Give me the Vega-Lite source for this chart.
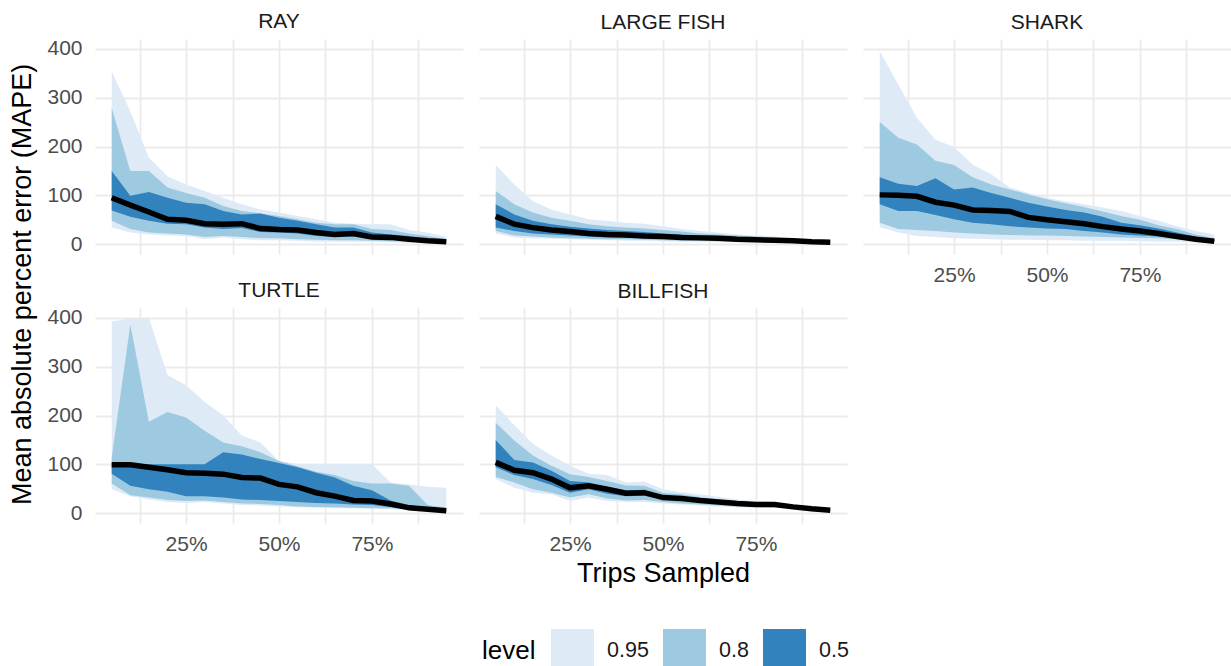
{
"$schema": "https://vega.github.io/schema/vega-lite/v6.json",
"padding": {"left": 8, "right": 0, "top": 10, "bottom": 0},
"title": {"text": "Mean absolute percent error (MAPE)", "orient": "left", "anchor": "middle", "fontSize": 27, "fontWeight": "normal", "color": "#000000", "offset": 10, "dx": 57},
"data": {"values": [
{"sp":"RAY","x":0.05,"m":95,"l50":69,"h50":150,"l80":48,"h80":279,"l95":34,"h95":354},
{"sp":"RAY","x":0.10,"m":80,"l50":56,"h50":99,"l80":31,"h80":150,"l95":24,"h95":272},
{"sp":"RAY","x":0.15,"m":66,"l50":48,"h50":107,"l80":24,"h80":150,"l95":20,"h95":177},
{"sp":"RAY","x":0.20,"m":51,"l50":42,"h50":95,"l80":22,"h80":116,"l95":18,"h95":139},
{"sp":"RAY","x":0.25,"m":49,"l50":41,"h50":85,"l80":20,"h80":105,"l95":17,"h95":122},
{"sp":"RAY","x":0.30,"m":42,"l50":34,"h50":82,"l80":15,"h80":95,"l95":10,"h95":109},
{"sp":"RAY","x":0.35,"m":41,"l50":31,"h50":68,"l80":17,"h80":78,"l95":14,"h95":95},
{"sp":"RAY","x":0.40,"m":42,"l50":33,"h50":61,"l80":15,"h80":68,"l95":10,"h95":82},
{"sp":"RAY","x":0.45,"m":32,"l50":25,"h50":63,"l80":12,"h80":63,"l95":8,"h95":71},
{"sp":"RAY","x":0.50,"m":30,"l50":24,"h50":54,"l80":12,"h80":58,"l95":8,"h95":65},
{"sp":"RAY","x":0.55,"m":29,"l50":22,"h50":48,"l80":10,"h80":51,"l95":7,"h95":58},
{"sp":"RAY","x":0.60,"m":24,"l50":17,"h50":41,"l80":9,"h80":44,"l95":5,"h95":51},
{"sp":"RAY","x":0.65,"m":20,"l50":15,"h50":34,"l80":8,"h80":41,"l95":5,"h95":44},
{"sp":"RAY","x":0.70,"m":22,"l50":16,"h50":34,"l80":8,"h80":41,"l95":5,"h95":42},
{"sp":"RAY","x":0.75,"m":15,"l50":10,"h50":24,"l80":7,"h80":31,"l95":5,"h95":41},
{"sp":"RAY","x":0.80,"m":14,"l50":9,"h50":20,"l80":6,"h80":29,"l95":4,"h95":41},
{"sp":"RAY","x":0.85,"m":10,"l50":7,"h50":17,"l80":5,"h80":22,"l95":3,"h95":29},
{"sp":"RAY","x":0.90,"m":7,"l50":5,"h50":10,"l80":4,"h80":17,"l95":3,"h95":24},
{"sp":"RAY","x":0.95,"m":5,"l50":3,"h50":7,"l80":3,"h80":10,"l95":2,"h95":15},
{"sp":"LARGE FISH","x":0.05,"m":57,"l50":34,"h50":82,"l80":27,"h80":109,"l95":22,"h95":162},
{"sp":"LARGE FISH","x":0.10,"m":41,"l50":27,"h50":61,"l80":18,"h80":82,"l95":14,"h95":122},
{"sp":"LARGE FISH","x":0.15,"m":34,"l50":22,"h50":48,"l80":16,"h80":65,"l95":12,"h95":88},
{"sp":"LARGE FISH","x":0.20,"m":29,"l50":20,"h50":41,"l80":14,"h80":54,"l95":11,"h95":71},
{"sp":"LARGE FISH","x":0.25,"m":26,"l50":18,"h50":36,"l80":12,"h80":48,"l95":10,"h95":61},
{"sp":"LARGE FISH","x":0.30,"m":22,"l50":16,"h50":32,"l80":11,"h80":41,"l95":9,"h95":51},
{"sp":"LARGE FISH","x":0.35,"m":20,"l50":14,"h50":29,"l80":10,"h80":37,"l95":8,"h95":48},
{"sp":"LARGE FISH","x":0.40,"m":19,"l50":14,"h50":27,"l80":10,"h80":34,"l95":7,"h95":44},
{"sp":"LARGE FISH","x":0.45,"m":17,"l50":12,"h50":25,"l80":9,"h80":32,"l95":7,"h95":42},
{"sp":"LARGE FISH","x":0.50,"m":16,"l50":11,"h50":22,"l80":8,"h80":29,"l95":6,"h95":37},
{"sp":"LARGE FISH","x":0.55,"m":14,"l50":10,"h50":20,"l80":7,"h80":26,"l95":5,"h95":31},
{"sp":"LARGE FISH","x":0.60,"m":13,"l50":9,"h50":18,"l80":7,"h80":22,"l95":5,"h95":27},
{"sp":"LARGE FISH","x":0.65,"m":12,"l50":8,"h50":17,"l80":6,"h80":20,"l95":4,"h95":24},
{"sp":"LARGE FISH","x":0.70,"m":10,"l50":7,"h50":15,"l80":5,"h80":18,"l95":4,"h95":20},
{"sp":"LARGE FISH","x":0.75,"m":9,"l50":6,"h50":13,"l80":5,"h80":16,"l95":3,"h95":18},
{"sp":"LARGE FISH","x":0.80,"m":8,"l50":5,"h50":11,"l80":4,"h80":14,"l95":3,"h95":16},
{"sp":"LARGE FISH","x":0.85,"m":7,"l50":5,"h50":9,"l80":4,"h80":11,"l95":3,"h95":12},
{"sp":"LARGE FISH","x":0.90,"m":5,"l50":4,"h50":7,"l80":3,"h80":8,"l95":2,"h95":9},
{"sp":"LARGE FISH","x":0.95,"m":4,"l50":3,"h50":5,"l80":3,"h80":5,"l95":2,"h95":5},
{"sp":"SHARK","x":0.05,"m":101,"l50":82,"h50":137,"l80":44,"h80":250,"l95":35,"h95":395},
{"sp":"SHARK","x":0.10,"m":100,"l50":68,"h50":124,"l80":31,"h80":218,"l95":24,"h95":327},
{"sp":"SHARK","x":0.15,"m":98,"l50":68,"h50":119,"l80":29,"h80":204,"l95":17,"h95":259},
{"sp":"SHARK","x":0.20,"m":86,"l50":60,"h50":135,"l80":27,"h80":171,"l95":15,"h95":214},
{"sp":"SHARK","x":0.25,"m":80,"l50":51,"h50":112,"l80":24,"h80":162,"l95":12,"h95":199},
{"sp":"SHARK","x":0.30,"m":70,"l50":44,"h50":116,"l80":22,"h80":137,"l95":11,"h95":163},
{"sp":"SHARK","x":0.35,"m":69,"l50":41,"h50":105,"l80":20,"h80":122,"l95":10,"h95":143},
{"sp":"SHARK","x":0.40,"m":67,"l50":37,"h50":95,"l80":19,"h80":112,"l95":9,"h95":116},
{"sp":"SHARK","x":0.45,"m":55,"l50":34,"h50":85,"l80":18,"h80":102,"l95":9,"h95":105},
{"sp":"SHARK","x":0.50,"m":50,"l50":32,"h50":77,"l80":18,"h80":92,"l95":8,"h95":95},
{"sp":"SHARK","x":0.55,"m":46,"l50":31,"h50":70,"l80":17,"h80":84,"l95":8,"h95":88},
{"sp":"SHARK","x":0.60,"m":42,"l50":27,"h50":65,"l80":16,"h80":76,"l95":7,"h95":82},
{"sp":"SHARK","x":0.65,"m":36,"l50":24,"h50":56,"l80":15,"h80":67,"l95":7,"h95":75},
{"sp":"SHARK","x":0.70,"m":31,"l50":20,"h50":44,"l80":14,"h80":58,"l95":7,"h95":68},
{"sp":"SHARK","x":0.75,"m":27,"l50":18,"h50":39,"l80":13,"h80":50,"l95":6,"h95":58},
{"sp":"SHARK","x":0.80,"m":22,"l50":16,"h50":32,"l80":12,"h80":39,"l95":5,"h95":48},
{"sp":"SHARK","x":0.85,"m":16,"l50":12,"h50":24,"l80":10,"h80":31,"l95":5,"h95":37},
{"sp":"SHARK","x":0.90,"m":10,"l50":8,"h50":16,"l80":7,"h80":20,"l95":4,"h95":27},
{"sp":"SHARK","x":0.95,"m":6,"l50":5,"h50":9,"l80":5,"h80":12,"l95":3,"h95":20},
{"sp":"TURTLE","x":0.05,"m":99,"l50":81,"h50":103,"l80":61,"h80":114,"l95":49,"h95":393},
{"sp":"TURTLE","x":0.10,"m":99,"l50":56,"h50":100,"l80":37,"h80":386,"l95":35,"h95":398},
{"sp":"TURTLE","x":0.15,"m":94,"l50":49,"h50":100,"l80":32,"h80":187,"l95":28,"h95":400},
{"sp":"TURTLE","x":0.20,"m":89,"l50":44,"h50":100,"l80":27,"h80":207,"l95":23,"h95":283},
{"sp":"TURTLE","x":0.25,"m":83,"l50":35,"h50":100,"l80":25,"h80":196,"l95":21,"h95":262},
{"sp":"TURTLE","x":0.30,"m":82,"l50":35,"h50":100,"l80":26,"h80":169,"l95":23,"h95":228},
{"sp":"TURTLE","x":0.35,"m":80,"l50":32,"h50":125,"l80":23,"h80":145,"l95":20,"h95":200},
{"sp":"TURTLE","x":0.40,"m":73,"l50":28,"h50":120,"l80":20,"h80":137,"l95":17,"h95":159},
{"sp":"TURTLE","x":0.45,"m":72,"l50":27,"h50":111,"l80":19,"h80":125,"l95":16,"h95":145},
{"sp":"TURTLE","x":0.50,"m":59,"l50":25,"h50":103,"l80":17,"h80":107,"l95":14,"h95":107},
{"sp":"TURTLE","x":0.55,"m":54,"l50":23,"h50":94,"l80":14,"h80":96,"l95":12,"h95":101},
{"sp":"TURTLE","x":0.60,"m":42,"l50":21,"h50":83,"l80":13,"h80":85,"l95":11,"h95":101},
{"sp":"TURTLE","x":0.65,"m":35,"l50":20,"h50":73,"l80":12,"h80":78,"l95":10,"h95":101},
{"sp":"TURTLE","x":0.70,"m":26,"l50":18,"h50":56,"l80":11,"h80":66,"l95":10,"h95":101},
{"sp":"TURTLE","x":0.75,"m":25,"l50":17,"h50":47,"l80":10,"h80":61,"l95":9,"h95":101},
{"sp":"TURTLE","x":0.80,"m":19,"l50":13,"h50":26,"l80":10,"h80":61,"l95":8,"h95":63},
{"sp":"TURTLE","x":0.85,"m":11,"l50":10,"h50":17,"l80":8,"h80":56,"l95":7,"h95":59},
{"sp":"TURTLE","x":0.90,"m":8,"l50":8,"h50":11,"l80":6,"h80":17,"l95":5,"h95":54},
{"sp":"TURTLE","x":0.95,"m":5,"l50":4,"h50":6,"l80":4,"h80":11,"l95":3,"h95":52},
{"sp":"BILLFISH","x":0.05,"m":104,"l50":94,"h50":150,"l80":74,"h80":185,"l95":70,"h95":221},
{"sp":"BILLFISH","x":0.10,"m":88,"l50":78,"h50":109,"l80":63,"h80":149,"l95":52,"h95":180},
{"sp":"BILLFISH","x":0.15,"m":83,"l50":70,"h50":104,"l80":49,"h80":118,"l95":42,"h95":142},
{"sp":"BILLFISH","x":0.20,"m":70,"l50":58,"h50":87,"l80":42,"h80":97,"l95":39,"h95":118},
{"sp":"BILLFISH","x":0.25,"m":52,"l50":42,"h50":66,"l80":32,"h80":80,"l95":25,"h95":97},
{"sp":"BILLFISH","x":0.30,"m":56,"l50":49,"h50":63,"l80":39,"h80":74,"l95":32,"h95":81},
{"sp":"BILLFISH","x":0.35,"m":49,"l50":40,"h50":54,"l80":30,"h80":66,"l95":25,"h95":78},
{"sp":"BILLFISH","x":0.40,"m":41,"l50":35,"h50":47,"l80":26,"h80":57,"l95":23,"h95":63},
{"sp":"BILLFISH","x":0.45,"m":42,"l50":36,"h50":48,"l80":27,"h80":56,"l95":23,"h95":65},
{"sp":"BILLFISH","x":0.50,"m":32,"l50":28,"h50":35,"l80":23,"h80":42,"l95":20,"h95":49},
{"sp":"BILLFISH","x":0.55,"m":30,"l50":26,"h50":33,"l80":20,"h80":39,"l95":18,"h95":43},
{"sp":"BILLFISH","x":0.60,"m":26,"l50":23,"h50":29,"l80":18,"h80":33,"l95":16,"h95":39},
{"sp":"BILLFISH","x":0.65,"m":23,"l50":21,"h50":25,"l80":16,"h80":28,"l95":14,"h95":33},
{"sp":"BILLFISH","x":0.70,"m":20,"l50":18,"h50":22,"l80":14,"h80":25,"l95":12,"h95":28},
{"sp":"BILLFISH","x":0.75,"m":18,"l50":17,"h50":20,"l80":13,"h80":23,"l95":11,"h95":25},
{"sp":"BILLFISH","x":0.80,"m":18,"l50":16,"h50":19,"l80":12,"h80":21,"l95":11,"h95":23},
{"sp":"BILLFISH","x":0.85,"m":13,"l50":12,"h50":15,"l80":10,"h80":17,"l95":8,"h95":18},
{"sp":"BILLFISH","x":0.90,"m":9,"l50":8,"h50":10,"l80":7,"h80":12,"l95":6,"h95":13},
{"sp":"BILLFISH","x":0.95,"m":6,"l50":5,"h50":6,"l80":4,"h80":7,"l95":3,"h95":8}
]},
"spacing": -6,
"vconcat": [
 {"spacing": 16, "hconcat": [
  {"title": "RAY", "width": 368, "height": 215, "transform": [{"filter": "datum.sp == 'RAY'"}],
   "encoding": {"x": {"field": "x", "type": "quantitative", "title": null, "scale": {"domain": [0.005, 0.995], "nice": false, "zero": false},
      "axis": {"values": [0.125,0.25,0.375,0.5,0.625,0.75,0.875], "labels": false}}},
   "layer": [
    {"mark": {"type": "area", "opacity": 1}, "encoding": {
       "y": {"field": "l95", "type": "quantitative", "title": null, "scale": {"domain": [-20, 420], "nice": false, "zero": false},
         "axis": {"values": [0,50,100,150,200,250,300,350,400], "labelExpr": "datum.value % 100 == 0 ? datum.label : ''", "labelPadding": 13}},
       "y2": {"field": "h95"},
       "color": {"datum": "0.95", "type": "nominal", "scale": {"domain": ["0.95","0.8","0.5"], "range": ["#deebf7","#9ecae1","#3182bd"]},
         "legend": {"orient": "none", "direction": "horizontal", "legendX": 387, "legendY": 590, "title": "level", "titleOrient": "left"}}}},
    {"mark": {"type": "area", "opacity": 1}, "encoding": {"y": {"field": "l80", "type": "quantitative"}, "y2": {"field": "h80"}, "color": {"datum": "0.8", "type": "nominal"}}},
    {"mark": {"type": "area", "opacity": 1}, "encoding": {"y": {"field": "l50", "type": "quantitative"}, "y2": {"field": "h50"}, "color": {"datum": "0.5", "type": "nominal"}}},
    {"mark": {"type": "line", "color": "#000000", "strokeWidth": 5.5}, "encoding": {"y": {"field": "m", "type": "quantitative"}}}
   ]},
  {"title": "LARGE FISH", "width": 368, "height": 215, "transform": [{"filter": "datum.sp == 'LARGE FISH'"}],
   "encoding": {"x": {"field": "x", "type": "quantitative", "title": null, "scale": {"domain": [0.005, 0.995], "nice": false, "zero": false},
      "axis": {"values": [0.125,0.25,0.375,0.5,0.625,0.75,0.875], "labels": false}}},
   "layer": [
    {"mark": {"type": "area", "opacity": 1}, "encoding": {
       "y": {"field": "l95", "type": "quantitative", "title": null, "scale": {"domain": [-20, 420], "nice": false, "zero": false},
         "axis": {"values": [0,50,100,150,200,250,300,350,400], "labels": false}},
       "y2": {"field": "h95"}, "color": {"datum": "0.95", "type": "nominal"}}},
    {"mark": {"type": "area", "opacity": 1}, "encoding": {"y": {"field": "l80", "type": "quantitative"}, "y2": {"field": "h80"}, "color": {"datum": "0.8", "type": "nominal"}}},
    {"mark": {"type": "area", "opacity": 1}, "encoding": {"y": {"field": "l50", "type": "quantitative"}, "y2": {"field": "h50"}, "color": {"datum": "0.5", "type": "nominal"}}},
    {"mark": {"type": "line", "color": "#000000", "strokeWidth": 5.5}, "encoding": {"y": {"field": "m", "type": "quantitative"}}}
   ]},
  {"title": "SHARK", "width": 368, "height": 215, "transform": [{"filter": "datum.sp == 'SHARK'"}],
   "encoding": {"x": {"field": "x", "type": "quantitative", "title": null, "scale": {"domain": [0.005, 0.995], "nice": false, "zero": false},
      "axis": {"values": [0.125,0.25,0.375,0.5,0.625,0.75,0.875], "labelExpr": "datum.value == 0.25 || datum.value == 0.5 || datum.value == 0.75 ? format(datum.value, '.0%') : ''", "labelPadding": 10}}},
   "layer": [
    {"mark": {"type": "area", "opacity": 1}, "encoding": {
       "y": {"field": "l95", "type": "quantitative", "title": null, "scale": {"domain": [-20, 420], "nice": false, "zero": false},
         "axis": {"values": [0,50,100,150,200,250,300,350,400], "labels": false}},
       "y2": {"field": "h95"}, "color": {"datum": "0.95", "type": "nominal"}}},
    {"mark": {"type": "area", "opacity": 1}, "encoding": {"y": {"field": "l80", "type": "quantitative"}, "y2": {"field": "h80"}, "color": {"datum": "0.8", "type": "nominal"}}},
    {"mark": {"type": "area", "opacity": 1}, "encoding": {"y": {"field": "l50", "type": "quantitative"}, "y2": {"field": "h50"}, "color": {"datum": "0.5", "type": "nominal"}}},
    {"mark": {"type": "line", "color": "#000000", "strokeWidth": 5.5}, "encoding": {"y": {"field": "m", "type": "quantitative"}}}
   ]}
 ]},
 {"spacing": 16, "hconcat": [
  {"title": "TURTLE", "width": 368, "height": 215, "transform": [{"filter": "datum.sp == 'TURTLE'"}],
   "encoding": {"x": {"field": "x", "type": "quantitative", "title": null, "scale": {"domain": [0.005, 0.995], "nice": false, "zero": false},
      "axis": {"values": [0.125,0.25,0.375,0.5,0.625,0.75,0.875], "labelExpr": "datum.value == 0.25 || datum.value == 0.5 || datum.value == 0.75 ? format(datum.value, '.0%') : ''", "labelPadding": 10}}},
   "layer": [
    {"mark": {"type": "area", "opacity": 1}, "encoding": {
       "y": {"field": "l95", "type": "quantitative", "title": null, "scale": {"domain": [-20, 420], "nice": false, "zero": false},
         "axis": {"values": [0,50,100,150,200,250,300,350,400], "labelExpr": "datum.value % 100 == 0 ? datum.label : ''", "labelPadding": 13}},
       "y2": {"field": "h95"}, "color": {"datum": "0.95", "type": "nominal"}}},
    {"mark": {"type": "area", "opacity": 1}, "encoding": {"y": {"field": "l80", "type": "quantitative"}, "y2": {"field": "h80"}, "color": {"datum": "0.8", "type": "nominal"}}},
    {"mark": {"type": "area", "opacity": 1}, "encoding": {"y": {"field": "l50", "type": "quantitative"}, "y2": {"field": "h50"}, "color": {"datum": "0.5", "type": "nominal"}}},
    {"mark": {"type": "line", "color": "#000000", "strokeWidth": 5.5}, "encoding": {"y": {"field": "m", "type": "quantitative"}}}
   ]},
  {"title": "BILLFISH", "width": 368, "height": 215, "transform": [{"filter": "datum.sp == 'BILLFISH'"}],
   "encoding": {"x": {"field": "x", "type": "quantitative", "title": "Trips Sampled", "scale": {"domain": [0.005, 0.995], "nice": false, "zero": false},
      "axis": {"values": [0.125,0.25,0.375,0.5,0.625,0.75,0.875], "labelExpr": "datum.value == 0.25 || datum.value == 0.5 || datum.value == 0.75 ? format(datum.value, '.0%') : ''", "labelPadding": 10, "titlePadding": 6}}},
   "layer": [
    {"mark": {"type": "area", "opacity": 1}, "encoding": {
       "y": {"field": "l95", "type": "quantitative", "title": null, "scale": {"domain": [-20, 420], "nice": false, "zero": false},
         "axis": {"values": [0,50,100,150,200,250,300,350,400], "labels": false}},
       "y2": {"field": "h95"}, "color": {"datum": "0.95", "type": "nominal"}}},
    {"mark": {"type": "area", "opacity": 1}, "encoding": {"y": {"field": "l80", "type": "quantitative"}, "y2": {"field": "h80"}, "color": {"datum": "0.8", "type": "nominal"}}},
    {"mark": {"type": "area", "opacity": 1}, "encoding": {"y": {"field": "l50", "type": "quantitative"}, "y2": {"field": "h50"}, "color": {"datum": "0.5", "type": "nominal"}}},
    {"mark": {"type": "line", "color": "#000000", "strokeWidth": 5.5}, "encoding": {"y": {"field": "m", "type": "quantitative"}}}
   ]}
 ]}
],
"config": {
  "font": "Liberation Sans",
  "view": {"stroke": null},
  "title": {"fontSize": 21, "fontWeight": "normal", "color": "#1a1a1a", "offset": 6, "anchor": "middle"},
  "axis": {"grid": true, "gridColor": "#ebebeb", "gridWidth": 1.8, "domain": false, "ticks": false, "labelColor": "#4d4d4d", "labelFontSize": 21, "titleFontSize": 27, "titleFontWeight": "normal", "titleColor": "#000000"},
  "legend": {"titleFontSize": 26, "titleFontWeight": "normal", "titleColor": "#000000", "titlePadding": 15, "labelFontSize": 21.5, "labelColor": "#1a1a1a", "symbolType": "square", "symbolSize": 1849, "symbolStrokeWidth": 0, "symbolOpacity": 1, "columnPadding": 14, "labelOffset": 13}
}
}
